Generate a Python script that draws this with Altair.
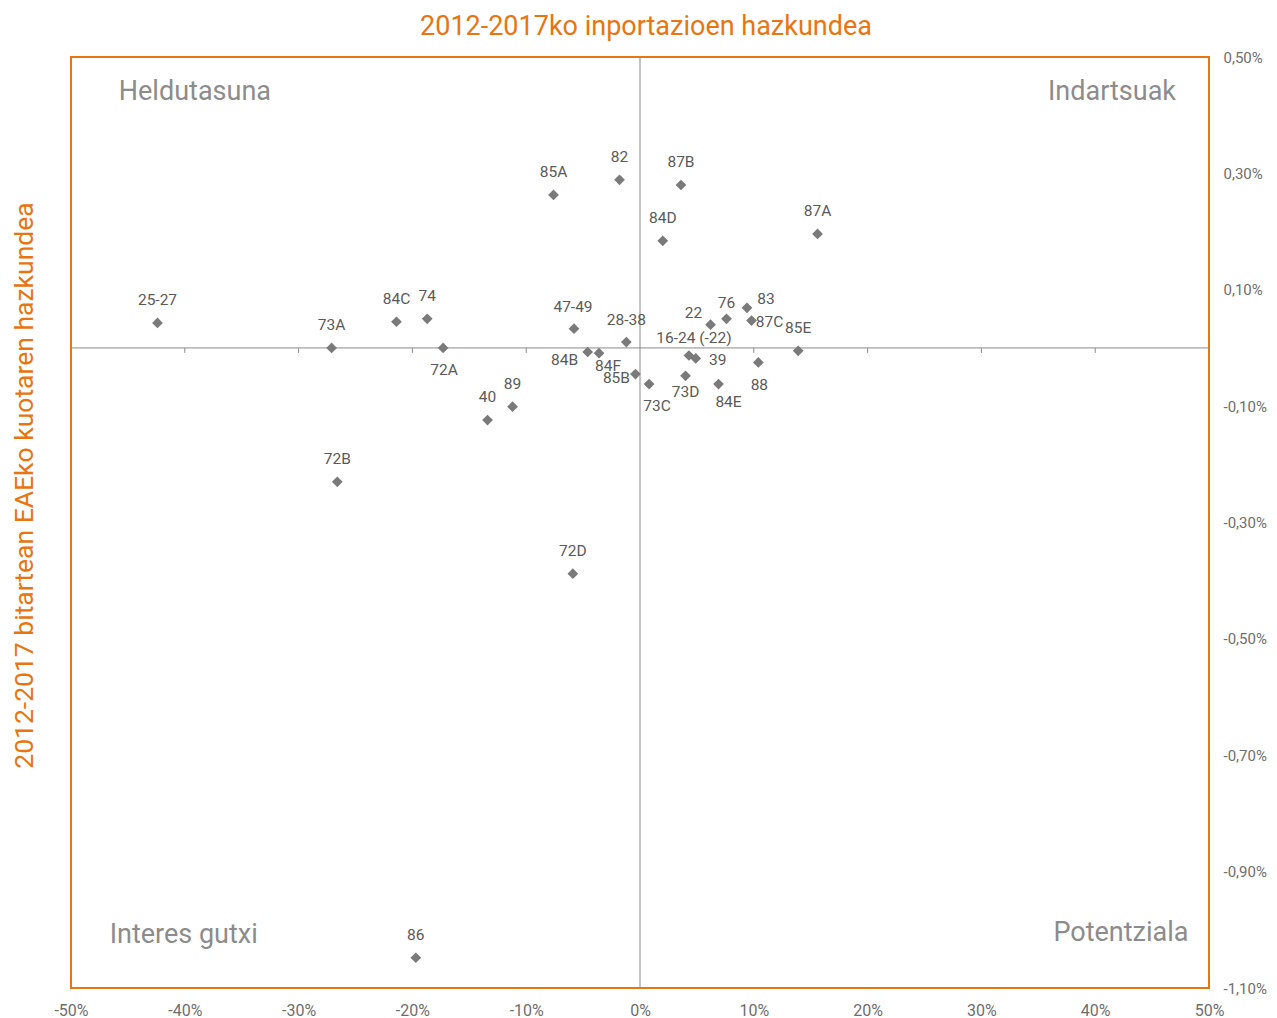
import altair as alt
import pandas as pd

# ---- data ----
codes = ["25-27", "73A", "84C", "74", "72A", "40", "89", "72B", "86", "72D",
         "85A", "82", "87B", "84D", "87A", "47-49", "28-38", "84B", "84F", "85B",
         "73C", "73D", "16-24 (-22)", "39", "22", "76", "83", "87C", "85E", "88", "84E"]
import_growth = [-42.4, -27.1, -21.4, -18.7, -17.3, -13.4, -11.2, -26.6, -19.7, -5.9,
                 -7.6, -1.8, 3.6, 2.0, 15.6, -5.8, -1.2, -4.6, -3.6, -0.4,
                 0.8, 4.0, 4.3, 4.9, 6.2, 7.6, 9.4, 9.8, 13.9, 10.4, 6.9]
share_growth = [0.043, 0.0, 0.045, 0.050, 0.0, -0.124, -0.101, -0.230, -1.048, -0.388,
                0.263, 0.289, 0.280, 0.184, 0.196, 0.033, 0.010, -0.007, -0.009, -0.045,
                -0.062, -0.048, -0.013, -0.018, 0.040, 0.050, 0.069, 0.047, -0.005, -0.025, -0.062]

x_ticks = [-50, -40, -30, -20, -10, 0, 10, 20, 30, 40, 50]
y_ticks = [0.5, 0.3, 0.1, -0.1, -0.3, -0.5, -0.7, -0.9, -1.1]
zero_ticks = [-40, -30, -20, -10, 10, 20, 30, 40]

quad_names = ["Heldutasuna", "Indartsuak", "Interes gutxi", "Potentziala"]
quad_x = [-45.8, 47.1, -46.6, 48.2]
quad_y = [0.44, 0.44, -1.009, -1.005]
quad_align = ["left", "right", "left", "right"]

# label placement (pixel offsets from each marker), default is above
label_offsets = {
    "47-49": (-1, -22), "28-38": (0, -22), "84B": (-23, 8), "84F": (9, 13),
    "85B": (-19, 4), "73C": (8, 22), "73D": (0, 16), "16-24 (-22)": (5, -18),
    "39": (22, 2), "22": (-17, -12), "76": (0, -16), "83": (19, -9),
    "87C": (18, 1), "85E": (0, -23), "88": (1, 23), "84E": (10, 18), "72A": (1, 22),
}
default_offset = (0, -23)

ORANGE = "#E8750F"
GREY_TXT = "#6e6e6e"
FONT = "Roboto"

df = pd.DataFrame({"code": codes, "x": import_growth, "y": share_growth})
quad_df = pd.DataFrame({"name": quad_names, "x": quad_x, "y": quad_y, "align": quad_align})

W, H = 1138, 931

xscale = alt.Scale(domain=[-50, 50], nice=False, zero=False)
yscale = alt.Scale(domain=[-1.1, 0.5], nice=False, zero=False)

x_axis = alt.Axis(values=x_ticks, labelExpr="datum.value + '%'", title=None,
                  grid=False, ticks=False, domain=False, labelPadding=14,
                  labelFlush=False, labelOverlap=False,
                  labelFontSize=16, labelColor=GREY_TXT, labelFont=FONT)
y_axis = alt.Axis(orient="right", values=y_ticks,
                  labelExpr="replace(replace(format(datum.value, '.2f'), '.', ','), '\u2212', '-') + '%'",
                  grid=False, ticks=False, domain=False, labelPadding=14,
                  labelFlush=False, labelOverlap=False,
                  labelFontSize=15, labelColor=GREY_TXT, labelFont=FONT,
                  labelAlign="left", labelBaseline="middle",
                  title="2012-2017 bitartean EAEko kuotaren hazkundea",
                  titleColor=ORANGE, titleFont=FONT, titleFontSize=26.5,
                  titleFontWeight="normal", titleAngle=270,
                  titleX=-(W + 47), titleY=428, titleAlign="center",
                  titleBaseline="middle")

base = alt.Chart(df)

# zero lines
zero_df = pd.DataFrame({"v": [0]})
vline = alt.Chart(zero_df).mark_rule(color="#8a8a8a", strokeWidth=1).encode(
    x=alt.X("v:Q", scale=xscale, axis=x_axis))
hline = alt.Chart(zero_df).mark_rule(color="#8a8a8a", strokeWidth=1).encode(
    y=alt.Y("v:Q", scale=yscale, axis=y_axis))
tick_df = pd.DataFrame({"t": zero_ticks})
zticks = alt.Chart(tick_df).mark_rule(color="#8a8a8a", strokeWidth=1, y2Offset=5).encode(
    x=alt.X("t:Q", scale=xscale),
    y=alt.datum(0, scale=yscale), y2=alt.datum(0))

points = base.mark_point(shape="diamond", filled=True, size=115, color="#7a7a7a",
                         opacity=1).encode(
    x=alt.X("x:Q", scale=xscale),
    y=alt.Y("y:Q", scale=yscale))

# labels, grouped by offset
groups = {}
for c in codes:
    groups.setdefault(label_offsets.get(c, default_offset), []).append(c)

label_layers = []
for (dx, dy), members in groups.items():
    label_layers.append(
        base.mark_text(dx=dx, dy=dy, fontSize=15.5, font=FONT, color="#5a5a5a",
                       align="center", baseline="middle")
        .encode(x=alt.X("x:Q", scale=xscale), y=alt.Y("y:Q", scale=yscale),
                text="code:N")
        .transform_filter(alt.FieldOneOfPredicate(field="code", oneOf=members))
    )

quad_layers = []
for al in ["left", "right"]:
    quad_layers.append(
        alt.Chart(quad_df).mark_text(fontSize=27, font=FONT, color="#8c8c8c",
                                     align=al, baseline="middle")
        .encode(x=alt.X("x:Q", scale=xscale), y=alt.Y("y:Q", scale=yscale),
                text="name:N")
        .transform_filter(alt.datum.align == al)
    )

chart = alt.layer(vline, hline, zticks, points, *label_layers, *quad_layers).properties(
    width=W, height=H,
    title=alt.TitleParams("2012-2017ko inportazioen hazkundea", color=ORANGE,
                          font=FONT, fontSize=27, fontWeight="normal",
                          anchor="middle", offset=9, dx=6),
    autosize=alt.AutoSizeParams(type="none"),
    padding={"left": 63, "top": 49, "right": 60, "bottom": 30},
).configure(background="white").configure_view(stroke=ORANGE, strokeWidth=2)

chart.save("out.html", embed_options={"renderer": "svg", "actions": False})
